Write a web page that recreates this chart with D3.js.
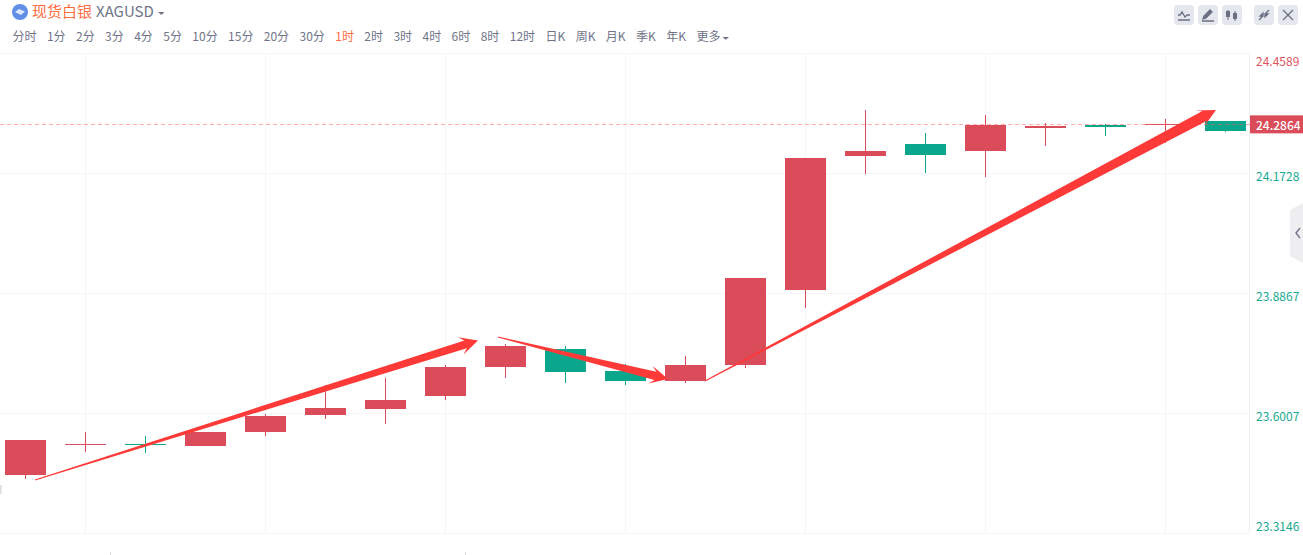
<!DOCTYPE html>
<html>
<head>
<meta charset="utf-8">
<style>
  html, body { margin: 0; padding: 0; background: #fff; overflow: hidden; }
  text { font-family: "Noto Sans CJK SC", "Noto Sans", sans-serif; }
</style>
<script src="https://cdn.jsdelivr.net/npm/d3@7/dist/d3.min.js"></script>
</head>
<body>
<div id="chart"></div>
<script>
"use strict";

// Candles, one per hour
const opens  = [23.4529, 23.5268, 23.5268, 23.5220, 23.5554, 23.5959, 23.6102, 23.6412, 23.7104, 23.7533, 23.7008, 23.6770, 23.7151, 23.8940, 24.2134, 24.2421, 24.2254, 24.2802, 24.2873, 24.2873, 24.2969];
const closes = [23.5363, 23.5268, 23.5268, 23.5554, 23.5936, 23.6126, 23.6317, 23.7104, 23.7604, 23.6985, 23.6770, 23.7151, 23.9226, 24.2087, 24.2254, 24.2158, 24.2873, 24.2850, 24.2826, 24.2897, 24.2730];
const highs  = [23.5363, 23.5554, 23.5459, 23.5554, 23.5983, 23.6675, 23.6842, 23.7151, 23.7652, 23.7604, 23.7175, 23.7366, 23.9226, 24.2087, 24.3231, 24.2683, 24.3112, 24.2921, 24.2897, 24.3017, 24.2969];
const lows   = [23.4433, 23.5077, 23.5053, 23.5220, 23.5459, 23.5864, 23.5745, 23.6317, 23.6842, 23.6722, 23.6675, 23.6722, 23.7080, 23.8510, 24.1705, 24.1729, 24.1634, 24.2373, 24.2611, 24.2444, 24.2707];

const priceTicks = [24.4589, 24.1728, 23.8867, 23.6007, 23.3146];
const lastPrice = 24.2864;
const gridCandles = [1, 4, 7, 10, 13, 16, 19];

// Hand drawn arrows on top of the candles: [index, price] to [index, price]
const arrowStarts = [[0.167, 23.4410], [7.883, 23.7819], [11.333, 23.6770]];
const arrowEnds   = [[7.55, 23.7736], [10.717, 23.6818], [19.85, 24.3231]];

const periods = ["分时", "1分", "2分", "3分", "4分", "5分", "10分", "15分", "20分", "30分", "1时", "2时", "3时", "4时", "6时", "8时", "12时", "日K", "周K", "月K", "季K", "年K", "更多"];
const activePeriod = "1时";

const RED = "#da4c59";
const GREEN = "#0aa78c";
const GRID = "#f5f5f8";
const GRAY = "#6f7488";
const ORANGE = "#ff6d3f";
const ARROW = "#fe3a39";

const width = 1303, height = 555;
const plotRight = 1249, bodyWidth = 41;

const svg = d3.select("#chart").append("svg")
  .attr("width", width)
  .attr("height", height)
  .style("display", "block");

const x = d3.scaleLinear().domain([0, 20]).range([25, 1225]);
const y = d3.scaleLinear().domain([23.3146, 24.4589]).range([533, 53]);

// Grid
const grid = svg.append("g").attr("shape-rendering", "crispEdges");
grid.selectAll("line.h").data(priceTicks).join("line")
  .attr("class", "h")
  .attr("x1", 0).attr("x2", plotRight)
  .attr("y1", d => Math.round(y(d)) + 0.5).attr("y2", d => Math.round(y(d)) + 0.5)
  .attr("stroke", GRID);
grid.selectAll("line.v").data(gridCandles).join("line")
  .attr("class", "v")
  .attr("x1", d => x(d) + 0.5).attr("x2", d => x(d) + 0.5)
  .attr("y1", 53).attr("y2", 533)
  .attr("stroke", GRID);
grid.append("line")
  .attr("x1", plotRight + 0.5).attr("x2", plotRight + 0.5)
  .attr("y1", 53).attr("y2", 533)
  .attr("stroke", "#f0f0f3");

// Candles (red is up here)
const candleColor = i => closes[i] >= opens[i] && !(i === 2) ? RED : GREEN;
const candles = svg.append("g").attr("shape-rendering", "crispEdges")
  .selectAll("g").data(d3.range(opens.length)).join("g")
  .attr("fill", i => candleColor(i));

candles.append("rect")
  .attr("x", i => x(i))
  .attr("width", 1)
  .attr("y", i => Math.round(y(highs[i])))
  .attr("height", i => Math.round(y(lows[i])) - Math.round(y(highs[i])));

candles.append("rect")
  .attr("x", i => x(i) - 20)
  .attr("width", bodyWidth)
  .attr("y", i => Math.round(y(Math.max(opens[i], closes[i]))))
  .attr("height", i => Math.max(1, Math.round(y(Math.min(opens[i], closes[i]))) - Math.round(y(Math.max(opens[i], closes[i])))));

// Last price line and tag
svg.append("line")
  .attr("x1", 0).attr("x2", plotRight + 1)
  .attr("y1", Math.round(y(lastPrice)) - 0.5).attr("y2", Math.round(y(lastPrice)) - 0.5)
  .attr("stroke", "#ff5a5a")
  .attr("stroke-opacity", 0.5)
  .attr("stroke-dasharray", "4 3")
  .attr("shape-rendering", "crispEdges");

svg.append("rect")
  .attr("x", plotRight + 1).attr("width", width - plotRight - 1)
  .attr("y", y(lastPrice) - 10).attr("height", 18)
  .attr("fill", RED);

svg.append("text")
  .attr("x", 1256).attr("y", y(lastPrice) + 4.5)
  .attr("font-size", 12).attr("font-weight", 500)
  .attr("fill", "#fff")
  .text(lastPrice.toFixed(4));

// Price labels
svg.selectAll("text.price").data(priceTicks).join("text")
  .attr("class", "price")
  .attr("x", 1256)
  .attr("y", (d, i) => y(d) + (i === 0 ? 13 : i === 4 ? -2 : 8))
  .attr("font-size", 12)
  .attr("fill", d => d > lastPrice ? "#e05462" : "#16a98f")
  .text(d => d.toFixed(4));

// Arrows, thin at the tail and widening up to the head
const arrowNecks = [4, 4.2, 5.4];

function arrowPath(from, to, neckHalf) {
  const x0 = x(from[0]), y0 = y(from[1]), x1 = x(to[0]), y1 = y(to[1]);
  const len = Math.hypot(x1 - x0, y1 - y0);
  const ux = (x1 - x0) / len, uy = (y1 - y0) / len;
  const nx = -uy, ny = ux;
  const headLen = 18, headHalf = 9, neckBack = 13, tailHalf = 0.5;
  const pt = (along, side) => [x1 - ux * along + nx * side, y1 - uy * along + ny * side];
  const pts = [
    [x0 + nx * tailHalf, y0 + ny * tailHalf],
    pt(neckBack, neckHalf), pt(headLen, headHalf),
    [x1, y1],
    pt(headLen, -headHalf), pt(neckBack, -neckHalf),
    [x0 - nx * tailHalf, y0 - ny * tailHalf]
  ];
  return d3.line()(pts) + "Z";
}

svg.append("g").selectAll("path").data(arrowStarts).join("path")
  .attr("d", (d, i) => arrowPath(d, arrowEnds[i], arrowNecks[i]))
  .attr("fill", ARROW);

// Header
svg.append("circle").attr("cx", 20).attr("cy", 12).attr("r", 8).attr("fill", "#5f8fe6");
svg.append("path")
  .attr("d", "M15 12 L19 9 L25 11.5 L21 15 Z")
  .attr("fill", "#dfe8fa");

svg.append("text")
  .attr("x", 32).attr("y", 16.5)
  .attr("font-size", 15).attr("fill", ORANGE)
  .text("现货白银");
svg.append("text")
  .attr("x", 96).attr("y", 17)
  .attr("font-size", 15).attr("fill", GRAY)
  .text("XAGUSD");
svg.append("path").attr("d", "M158 12 h6.5 l-3.25 3 Z").attr("fill", GRAY);

// Period tabs, laid out one after the other
let tabX = 12.5;
periods.forEach(label => {
  const t = svg.append("text")
    .attr("x", tabX).attr("y", 41)
    .attr("font-size", 12)
    .attr("fill", label === activePeriod ? ORANGE : GRAY)
    .text(label);
  tabX += t.node().getComputedTextLength() + 10.41;
});
svg.append("path").attr("d", "M722.5 37 h6.5 l-3.25 2.8 Z").attr("fill", GRAY);

// Toolbar buttons on the right
const buttonX = [1174, 1198, 1222, 1254, 1278];
const buttonIcons = [
  "M4 15 h12 M4 10 h2 l2-3 l3 5 l2-2 h3",
  "M5 14 l1-3 l6-6 l2 2 l-6 6 Z M4 16 h12",
  "M6 5 v10 M13 6 v10",
  "M5 15 l4-4 M15 5 l-4 4 M9 8 v3 h-3 Z M11 12 v-3 h3 Z",
  "M5 5 l10 10 M15 5 l-10 10"
];
const buttons = svg.selectAll("g.btn").data(buttonX).join("g")
  .attr("class", "btn")
  .attr("transform", d => `translate(${d},5)`);
buttons.append("rect")
  .attr("width", 20).attr("height", 20).attr("rx", 4)
  .attr("fill", "#e5e7ef");
buttons.append("path")
  .attr("d", (d, i) => buttonIcons[i])
  .attr("fill", (d, i) => i === 1 || i === 3 ? "#6a6f82" : "none")
  .attr("stroke", "#6a6f82")
  .attr("stroke-width", (d, i) => i === 2 ? 1 : 1.3);
// Little candle bodies in the third button
buttons.filter((d, i) => i === 2).selectAll("rect.b").data([7, 9]).join("rect")
  .attr("class", "b")
  .attr("x", (d, i) => (i === 0 ? 4 : 11)).attr("y", d => d - 1)
  .attr("width", 4).attr("height", 6)
  .attr("fill", "#6a6f82");

// Collapse handle at the right edge
svg.append("path")
  .attr("d", "M1303 203 L1290 210 V256 L1303 263 Z")
  .attr("fill", "#eeeef1");
svg.append("path")
  .attr("d", "M1300 228 L1296 233 L1300 238")
  .attr("fill", "none").attr("stroke", "#6f7488").attr("stroke-width", 1.4);

// Tops of the cut off time labels and a stray mark at the left edge
svg.selectAll("rect.cut").data([110, 465]).join("rect")
  .attr("class", "cut")
  .attr("x", d => d).attr("y", 552).attr("width", 1).attr("height", 3)
  .attr("fill", "#d8d8dc");
svg.append("rect").attr("x", 0).attr("y", 485).attr("width", 1.5).attr("height", 9).attr("fill", "#dcdcdc");
</script>
</body>
</html>
